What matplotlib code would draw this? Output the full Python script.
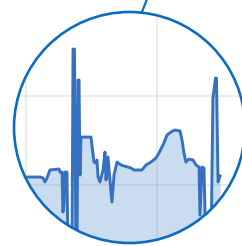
import matplotlib
matplotlib.use("Agg")
import matplotlib.pyplot as plt
from matplotlib.patches import Ellipse

# values (x: sample, y: value)
x = [-8.4, 10.7, 13.0, 14.5, 16.0, 18.3, 25.2, 26.0, 27.5, 28.2, 29.0, 29.8,
     31.3, 32.1, 35.1, 35.9, 37.0, 38.2, 38.9, 39.7, 40.5, 41.2, 42.0, 49.6,
     51.9, 53.4, 54.2, 55.0, 56.5, 58.8, 60.3, 61.1, 62.6, 64.1, 65.6, 67.2,
     69.5, 72.5, 80.2, 82.4, 88.5, 91.6, 95.4, 99.2, 101.5, 105.3, 107.6,
     110.7, 113.7, 117.6, 119.1, 120.6, 122.1, 124.4, 127.5, 129.8, 132.1,
     132.8, 134.4, 135.9, 137.4, 141.2, 142.7, 144.7, 145.4, 146.6, 148.1]
y = [9.0, 9.0, 7.9, 3.4, 7.9, 16.9, 18.0, 14.6, 14.6, -30.3, -22.5, 14.6,
     14.6, -80, -80, 152.8, 152.8, -80, -80, 118.0, 118.0, 11.2, 53.9, 53.9,
     25.8, 24.7, 28.1, 9.0, 3.4, 16.9, 37.1, 5.6, 31.5, 5.6, -19.1, 11.2,
     25.8, 22.5, 19.1, 16.9, 16.9, 22.5, 25.8, 30.3, 36.0, 47.2, 56.2,
     59.6, 61.8, 60.7, 50.6, 36.0, 25.8, 29.2, 28.1, 22.5, 20.2,
     -33.7, 20.2, 19.1, -80, -80, 97.8, 120.2, 120.2, 3.4, 10.1]
grid_x = [0, 100]
grid_y = [0, 100]

ring_color = "#0e6cbf"
line_color = "#3671c1"
fill_color = "#c9dcf0"

fig = plt.figure(figsize=(2.42, 2.46), dpi=100)
ax = fig.add_axes([0, 0, 1, 1])
ax.set_xlim(-19.85, 164.9)
ax.set_ylim(-68.5, 207.9)
ax.axis("off")

# lens shape, in axes fraction so it stays round
cx, cy, r = 129.5 / 242, 1 - 127.5 / 246, 231
lens = Ellipse((cx, cy), r / 242, r / 246, transform=ax.transAxes,
               fc="none", ec="none")

fill = ax.fill_between(x, y, -100, color=fill_color, lw=0, zorder=1)
fill.set_clip_path(lens)

for g in grid_x:
    gl = ax.axvline(g, color="#888888", alpha=0.18, lw=1.2, zorder=2)
    gl.set_clip_path(lens)
for g in grid_y:
    gl = ax.axhline(g, color="#888888", alpha=0.18, lw=1.2, zorder=2)
    gl.set_clip_path(lens)

line, = ax.plot(x, y, color=line_color, lw=2.1, solid_joinstyle="round",
                zorder=3)
line.set_clip_path(lens)

ring = Ellipse((cx, cy), r / 242, r / 246, transform=ax.transAxes,
               fc="none", ec=ring_color, lw=1.9, zorder=4)
ax.add_patch(ring)

# leader line out of the top of the lens
ax.plot([142 / 242, 147 / 242], [1 - 12 / 246, 1 + 1 / 246],
        transform=ax.transAxes, color=ring_color, lw=1.6, clip_on=False,
        zorder=4)

fig.savefig("out.png", dpi=100)
